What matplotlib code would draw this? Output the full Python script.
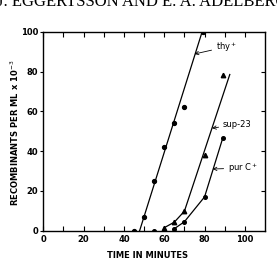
import matplotlib
matplotlib.use("Agg")
import matplotlib.pyplot as plt
import numpy as np

# data
thy_x = [45, 50, 55, 60, 65, 70, 79]
thy_y = [0, 7, 25, 42, 54, 62, 100]
thy_line_x = [47.8, 78.8]
thy_line_y = [0, 100]

sup_x = [60, 65, 70, 80, 89]
sup_y = [1.5, 4.3, 9.8, 38, 78]
sup_line_x = [70, 92.5]
sup_line_y = [9.8, 78.5]

pur_x = [55, 65, 70, 80, 89]
pur_y = [0, 1, 4.5, 17, 46.5]

x_ticks = [0, 20, 40, 60, 80, 100]
y_ticks = [0, 20, 40, 60, 80, 100]

fig = plt.figure(figsize=(2.77, 2.60), dpi=100)
ax = fig.add_axes([0.156, 0.1127, 0.801, 0.7653])

lw = 0.9
# thy+
ax.plot(thy_line_x, thy_line_y, color="black", lw=lw)
ax.plot(thy_x, thy_y, "o", color="black", ms=2.8, ls="none")
# sup-23
ax.plot(sup_x[:3], sup_y[:3], color="black", lw=lw)
ax.plot(sup_line_x, sup_line_y, color="black", lw=lw)
ax.plot(sup_x, sup_y, "^", color="black", ms=3.2, ls="none")
# purC+
ax.plot(pur_x[1:], pur_y[1:], color="black", lw=lw)
ax.plot(pur_x, pur_y, "o", color="black", ms=2.6, ls="none")

ax.set_xlim(0, 110)
ax.set_ylim(0, 100)

for s in ax.spines.values():
    s.set_linewidth(1.0)

fs = 6
ax.set_xticks(x_ticks)
ax.set_xticklabels([str(v) for v in x_ticks], fontsize=fs, fontweight="bold")
ax.set_xticks(np.arange(10, 110, 20), minor=True)
ax.set_yticks(y_ticks)
ax.set_yticklabels([str(v) for v in y_ticks], fontsize=fs, fontweight="bold")
ax.tick_params(axis="x", which="both", direction="in", length=3.5, width=0.8,
               top=True, pad=3)
ax.tick_params(axis="y", which="both", direction="out", length=2.5, width=0.8,
               right=False, pad=1.2)
# right inward ticks
ax2 = ax.twinx()
ax2.set_ylim(0, 100)
ax2.set_yticks([20, 40, 60, 80])
ax2.tick_params(axis="y", direction="in", length=3, width=0.8, labelright=False)
for s in ax2.spines.values():
    s.set_visible(False)

ax.set_xlabel("TIME IN MINUTES", fontsize=fs, fontweight="bold")
ax.xaxis.set_label_coords(0.47, -(255.5 - 230.7) / 199.0,
                          transform=ax.transAxes)
ax.set_ylabel(r"RECOMBINANTS PER ML x 10$^{-3}$", fontsize=fs, fontweight="bold")
ax.yaxis.set_label_coords(-(43.3 - 15) / 221.9, 0.49, transform=ax.transAxes)
ax.xaxis.label.set_va("center")
ax.yaxis.label.set_va("center")

afs = 6
ax.annotate(r"thy$^+$", xy=(75, 88.8), xytext=(85.5, 92.4), fontsize=afs,
            va="center", ha="left",
            arrowprops=dict(arrowstyle="->", lw=0.6, color="black",
                            shrinkA=1, shrinkB=0))
ax.annotate("sup-23", xy=(83.7, 51.5), xytext=(89, 53.5), fontsize=afs,
            va="center", ha="left",
            arrowprops=dict(arrowstyle="->", lw=0.6, color="black",
                            shrinkA=1, shrinkB=0))
ax.annotate(r"pur C$^+$", xy=(84, 31), xytext=(91.5, 31.5), fontsize=afs,
            va="center", ha="left",
            arrowprops=dict(arrowstyle="->", lw=0.6, color="black",
                            shrinkA=1, shrinkB=0))

fig.text(-0.01, 1 - 5.5 / 260, "J. EGGERTSSON AND E. A. ADELBERG", fontsize=12,
         family="Liberation Serif", ha="left", va="baseline")

fig.savefig("out.png", dpi=100)
